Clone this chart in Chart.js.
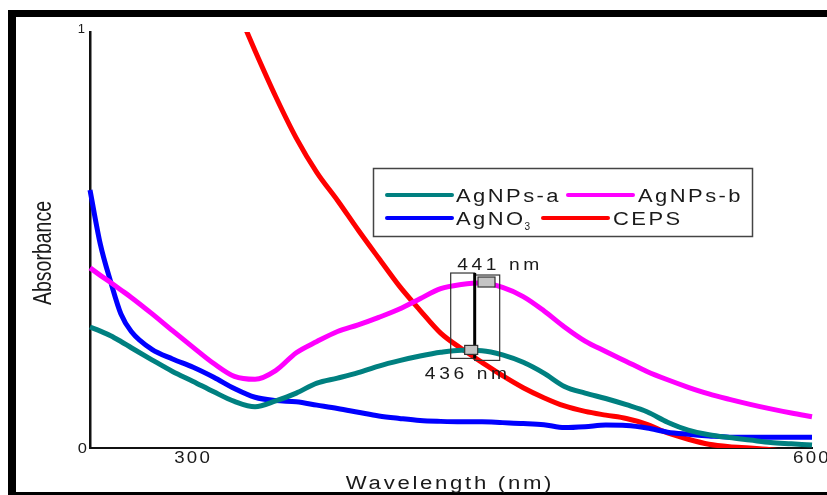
<!DOCTYPE html>
<html>
<head>
<meta charset="utf-8">
<script src="https://cdn.jsdelivr.net/npm/chart.js@4.4.1/dist/chart.umd.min.js"></script>
<style>
html, body { margin: 0; padding: 0; background: #fff; }
#wrap { position: relative; width: 827px; height: 495px; overflow: hidden; }
#frame { position: absolute; left: 8px; top: 10px; width: 900px; height: 475px;
         border-style: solid; border-color: #000; border-width: 7px 8px 8px 8px; }
canvas { position: absolute; left: 0; top: 0; }
</style>
</head>
<body>
<div id="wrap">
  <div id="frame"></div>
  <canvas id="chart" width="827" height="495"></canvas>
</div>
<script>
// wavelengths (nm)
const wavelengths = [250, 255, 260, 265, 270, 280, 290, 300, 310, 320, 330, 340, 350, 360, 370, 380, 390, 400,
  410, 420, 430, 440, 450, 460, 470, 480, 490, 500, 510, 520, 530, 540, 550, 560, 570, 580, 590, 600];

const agnpsA = [0.291, 0.281, 0.270, 0.256, 0.241, 0.212, 0.184, 0.160, 0.135, 0.112, 0.099, 0.113, 0.132, 0.156,
  0.168, 0.181, 0.197, 0.210, 0.221, 0.230, 0.235, 0.234, 0.224, 0.206, 0.180, 0.148, 0.132, 0.119, 0.104, 0.087,
  0.062, 0.043, 0.032, 0.025, 0.019, 0.013, 0.010, 0.007];

const agnpsB = [0.433, 0.415, 0.398, 0.380, 0.362, 0.323, 0.282, 0.242, 0.203, 0.172, 0.165, 0.186, 0.229, 0.256,
  0.280, 0.296, 0.314, 0.334, 0.359, 0.383, 0.393, 0.397, 0.386, 0.364, 0.330, 0.291, 0.257, 0.232, 0.208, 0.184,
  0.164, 0.146, 0.130, 0.117, 0.105, 0.094, 0.084, 0.075];

const agno3 = [0.620, 0.490, 0.400, 0.322, 0.280, 0.237, 0.214, 0.194, 0.170, 0.143, 0.122, 0.114, 0.111, 0.103,
  0.095, 0.086, 0.077, 0.071, 0.066, 0.064, 0.063, 0.063, 0.061, 0.059, 0.056, 0.049, 0.051, 0.055, 0.054, 0.048,
  0.038, 0.033, 0.029, 0.026, 0.026, 0.026, 0.026, 0.026];

const ceps = [null, null, null, null, null, null, null, null, 1.19, 1.07, 0.955, 0.845, 0.745, 0.662,
  0.595, 0.524, 0.456, 0.389, 0.331, 0.276, 0.239, 0.206, 0.174, 0.145, 0.121, 0.101, 0.088, 0.079, 0.071, 0.057,
  0.036, 0.021, 0.009, 0.003, 0.000, -0.004, -0.010, -0.015];

const seriesNames = ['AgNPs-a', 'AgNPs-b', 'AgNO3', 'CEPS'];
const seriesColors = ['#008080', '#ff00ff', '#0000ff', '#ff0000'];

const xTicks = [300, 600];
const yTicks = [0, 1];

// peak markers: [wavelength, absorbance]
const peakPoints = [[441, 0.399], [436, 0.237]];
const peakLabels = ['441 nm', '436 nm'];

const FONT = '"Liberation Sans", Arial, sans-serif';

// text drawn a bit wider and spaced, like the original export
function wideText(ctx, text, x, y, size, sx, spacing, align) {
  ctx.save();
  ctx.translate(x, y);
  ctx.scale(sx, 1);
  ctx.font = size + 'px ' + FONT;
  ctx.letterSpacing = spacing + 'px';
  ctx.textAlign = align || 'left';
  ctx.fillText(text, 0, 0);
  const w = ctx.measureText(text).width * sx;
  ctx.restore();
  return w;
}

const decorPlugin = {
  id: 'decor',
  afterDatasetsDraw(chart) {
    const ctx = chart.ctx;
    const xs = chart.scales.x, ys = chart.scales.y;
    ctx.save();
    ctx.fillStyle = '#1a1a1a';
    ctx.textBaseline = 'alphabetic';

    // tick labels
    xTicks.forEach(v => {
      wideText(ctx, String(v), xs.getPixelForValue(v), 463, 17, 1.1, 2, 'center');
    });
    yTicks.forEach(v => {
      const py = ys.getPixelForValue(v);
      if (v === 1) wideText(ctx, String(v), 85, py + 1, 13, 1, 0, 'right');
      else wideText(ctx, String(v), 87, py + 5, 15, 1.1, 0, 'right');
    });

    // axis titles
    wideText(ctx, 'Wavelength (nm)', 450, 489, 18, 1.23, 2.2, 'center');
    ctx.save();
    ctx.translate(51, 253);
    ctx.rotate(-Math.PI / 2);
    ctx.scale(0.78, 1);
    ctx.font = '25px ' + FONT;
    ctx.textAlign = 'center';
    ctx.fillText('Absorbance', 0, 0);
    ctx.restore();

    // peak cursors
    const x1 = xs.getPixelForValue(peakPoints[0][0]), y1 = ys.getPixelForValue(peakPoints[0][1]);
    const x2 = xs.getPixelForValue(peakPoints[1][0]), y2 = ys.getPixelForValue(peakPoints[1][1]);
    const top = y1 - 9, bot = y2 + 9;
    ctx.strokeStyle = '#333';
    ctx.lineWidth = 1.2;
    ctx.strokeRect(x2 - 23, top, 24, bot - top);
    ctx.strokeRect(x2 + 1, top + 2, 25, bot - top);
    ctx.lineWidth = 3;
    ctx.strokeStyle = '#000';
    ctx.beginPath();
    ctx.moveTo(x2 + 1, top);
    ctx.lineTo(x2 + 1, bot);
    ctx.stroke();
    ctx.fillStyle = '#c4c4c4';
    ctx.strokeStyle = '#333';
    ctx.lineWidth = 1.2;
    ctx.fillRect(x1 - 6, y1 - 5, 17, 10);
    ctx.strokeRect(x1 - 6, y1 - 5, 17, 10);
    ctx.fillRect(x2 - 9, y2 - 4, 13, 9);
    ctx.strokeRect(x2 - 9, y2 - 4, 13, 9);

    ctx.fillStyle = '#1a1a1a';
    wideText(ctx, peakLabels[0], x1 + 16, y1 - 12, 16, 1.2, 3, 'center');
    wideText(ctx, peakLabels[1], x2 - 6, y2 + 30, 16, 1.2, 3, 'center');

    // legend
    ctx.strokeStyle = '#444';
    ctx.lineWidth = 1.5;
    ctx.strokeRect(373.5, 168.5, 379, 68);
    const items = [
      { i: 0, lx: 387, tx: 456, y: 195 },
      { i: 1, lx: 568, tx: 638, y: 195 },
      { i: 2, lx: 387, tx: 456, y: 218 },
      { i: 3, lx: 543, tx: 613, y: 218 }
    ];
    items.forEach(it => {
      ctx.strokeStyle = seriesColors[it.i];
      ctx.lineWidth = 4;
      ctx.lineCap = 'round';
      ctx.beginPath();
      ctx.moveTo(it.lx, it.y);
      ctx.lineTo(it.lx + 65, it.y);
      ctx.stroke();
      ctx.fillStyle = '#1a1a1a';
      const name = seriesNames[it.i];
      const m = name.match(/^(.*?)(\d+)$/);
      if (m) {
        const w = wideText(ctx, m[1], it.tx, it.y + 7, 18, 1.22, 2, 'left');
        wideText(ctx, m[2], it.tx + w - 1, it.y + 12, 10, 1, 0, 'left');
      } else {
        wideText(ctx, name, it.tx, it.y + 7, 18, 1.22, 2, 'left');
      }
    });
    ctx.restore();
  }
};

const datasets = [agnpsA, agnpsB, agno3, ceps].map((vals, i) => ({
  label: seriesNames[i],
  data: wavelengths.map((w, k) => ({ x: w, y: vals[k] })),
  borderColor: seriesColors[i],
  borderWidth: 5,
  pointRadius: 0,
  fill: false,
  cubicInterpolationMode: 'monotone',
  clip: i === 3 ? { left: 3, top: 0, right: 3, bottom: 0 } : 3
}));

new Chart(document.getElementById('chart'), {
  type: 'line',
  data: { datasets: datasets },
  options: {
    responsive: false,
    animation: false,
    layout: { padding: { left: 0, top: 32, right: 15, bottom: 0 } },
    plugins: { legend: { display: false }, tooltip: { enabled: false } },
    scales: {
      x: {
        type: 'linear', min: 250, max: 600,
        grid: { display: false, drawTicks: false },
        border: { color: '#111', width: 2 },
        ticks: { display: false },
        afterFit: s => { s.height = 47; s.paddingLeft = 0; s.paddingRight = 0; }
      },
      y: {
        min: 0, max: 1,
        grid: { display: false, drawTicks: false },
        border: { color: '#111', width: 2.5 },
        ticks: { display: false },
        afterFit: s => { s.width = 90; s.paddingTop = 0; s.paddingBottom = 0; }
      }
    }
  },
  plugins: [decorPlugin]
});
</script>
</body>
</html>
